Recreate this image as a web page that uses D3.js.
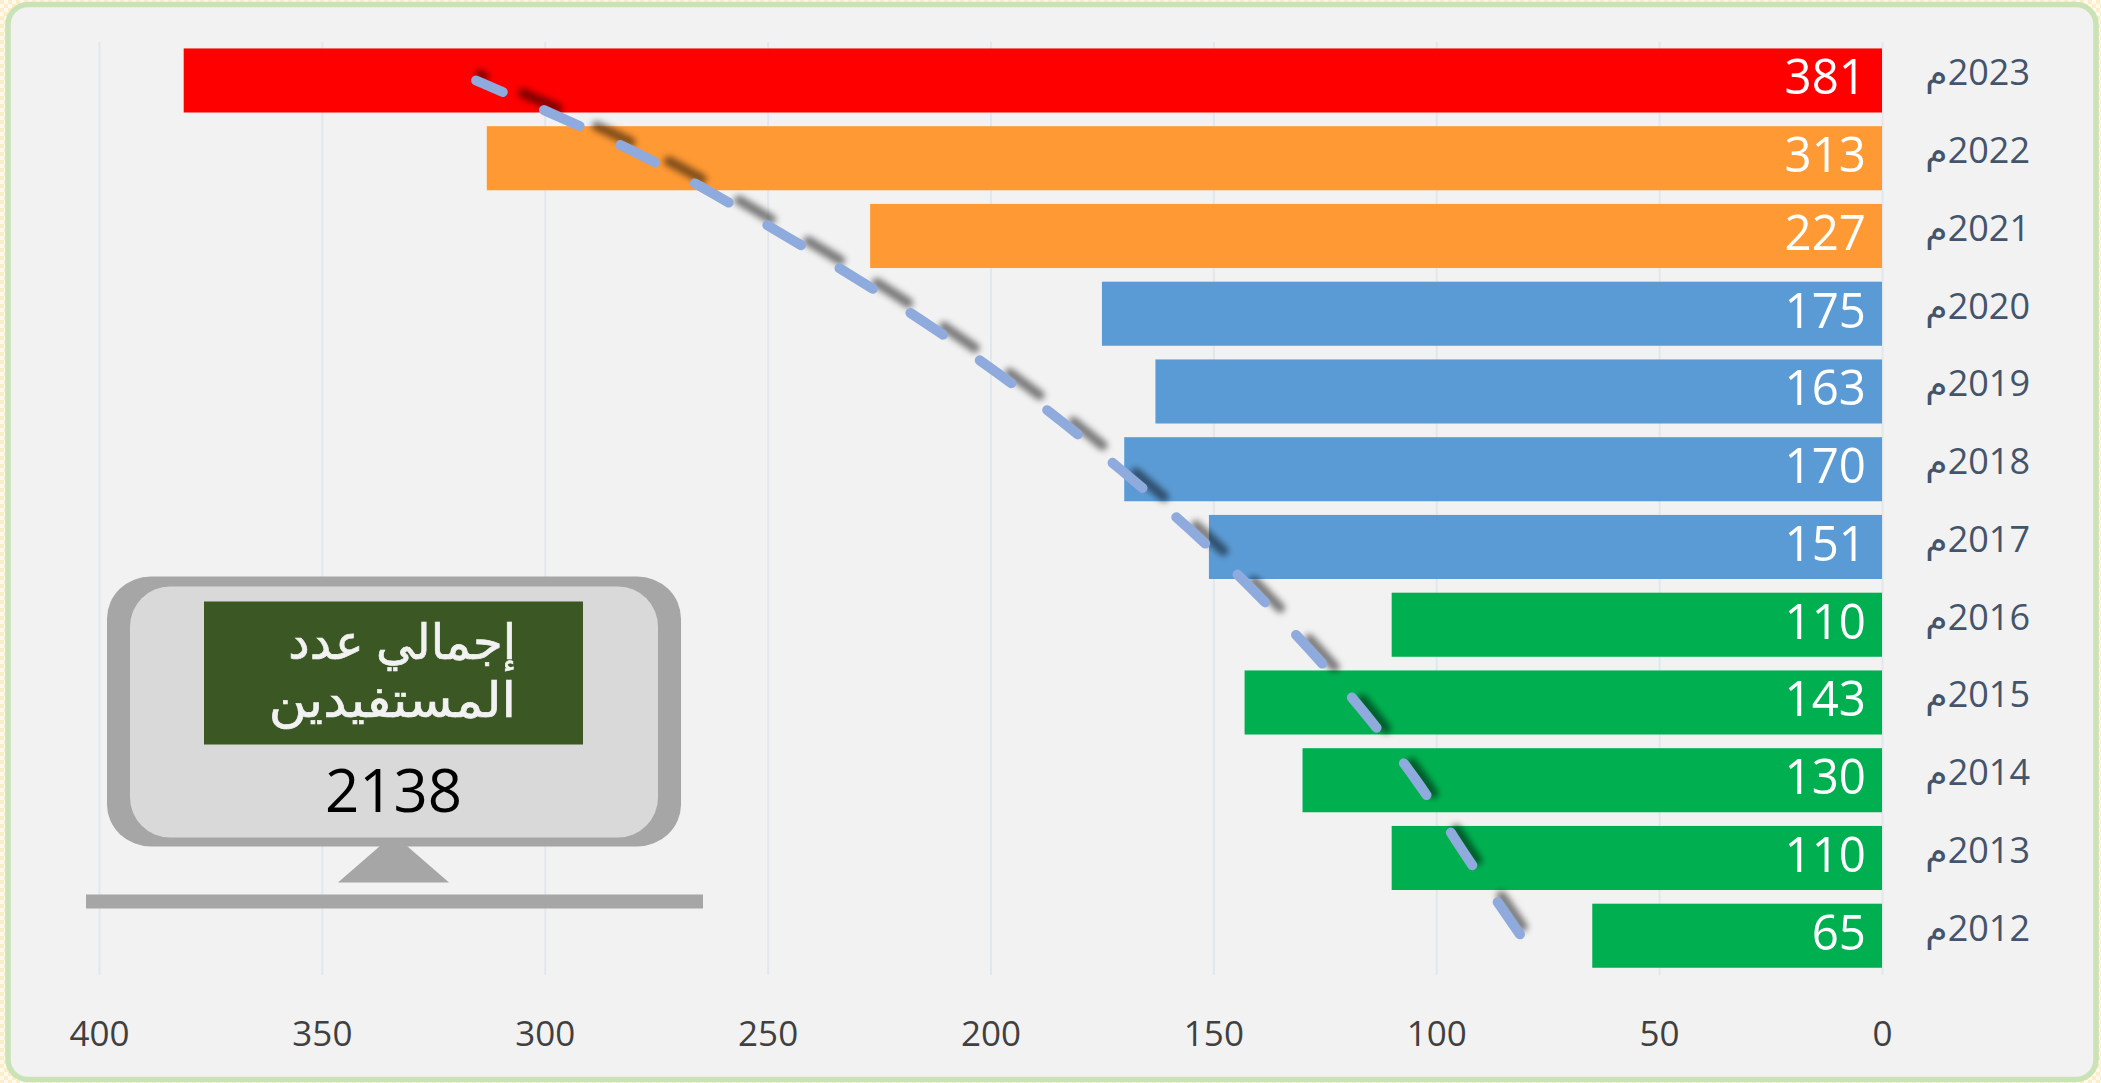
<!DOCTYPE html>
<html><head><meta charset="utf-8">
<script src="https://cdnjs.cloudflare.com/ajax/libs/d3/7.8.5/d3.min.js"></script>
<style>
html,body{margin:0;padding:0;background:#fff;overflow:hidden}
svg{display:block}
text{font-family:"Open Sans","Noto Sans","DejaVu Sans",sans-serif}
</style></head><body>
<svg id="c" width="2101" height="1083"></svg>
<script>
const years=[2023,2022,2021,2020,2019,2018,2017,2016,2015,2014,2013,2012];
const values=[381,313,227,175,163,170,151,110,143,130,110,65];
const trend=[315.4,277,246,217.7,192.8,170.9,151,133.6,118,104.5,93,81];
const xTicks=[400,350,300,250,200,150,100,50,0];
const yearSuffix="م";
const totalLines=["إجمالي عدد","المستفيدين"];
const totalValue=2138;

const svg=d3.select("#c");
const defs=svg.append("defs");
defs.append("filter").attr("id","blur").attr("x","-20%").attr("y","-20%").attr("width","140%").attr("height","140%")
  .append("feGaussianBlur").attr("stdDeviation",3);
const pat=defs.append("pattern").attr("id","weave").attr("width",8).attr("height",8).attr("patternUnits","userSpaceOnUse");
pat.append("rect").attr("width",8).attr("height",8).attr("fill","#fffaf0");
pat.append("rect").attr("width",4).attr("height",4).attr("fill","#fdeec8");
pat.append("rect").attr("x",4).attr("y",4).attr("width",4).attr("height",4).attr("fill","#fdeec8");

svg.append("rect").attr("width",2101).attr("height",1083).attr("fill","url(#weave)");
svg.append("rect").attr("x",8).attr("y",4.5).attr("width",2088).attr("height",1075).attr("rx",20)
  .attr("fill","#f2f2f2").attr("stroke","#c9e2b6").attr("stroke-width",5.5);

const x=d3.scaleLinear().domain([400,0]).range([99,1882]);
const y=d3.scaleBand().domain(years).range([41.6,974.6]).paddingInner(0.176).paddingOuter(0.088);
const colour=d3.scaleThreshold().domain([2017,2021,2023]).range(["#00b050","#5b9bd5","#ff9933","#ff0000"]);

const gx=svg.append("g").attr("transform","translate(0,975)")
  .call(d3.axisBottom(x).tickValues(xTicks).tickSize(-933).tickPadding(0));
gx.select(".domain").remove();
gx.selectAll("line").attr("stroke","#e2e7ec").attr("stroke-width",2);
gx.selectAll("text").attr("y",null).attr("dy",null).attr("transform","translate(0,70.5)")
  .attr("fill","#404040").attr("font-size",35).attr("font-family",'"Open Sans"');

svg.selectAll("rect.bar").data(years).join("rect").attr("class","bar")
  .attr("x",(d,i)=>x(values[i])).attr("y",d=>y(d))
  .attr("width",(d,i)=>x(0)-x(values[i])).attr("height",y.bandwidth())
  .attr("fill",d=>colour(d));

svg.selectAll("text.val").data(years).join("text").attr("class","val")
  .attr("transform",d=>`translate(${x(0)-16},${y(d)+y.bandwidth()/2+14}) scale(.95,1)`)
  .attr("text-anchor","end").attr("fill","#fff").attr("font-size",50)
  .text((d,i)=>values[i]);

const gy=svg.append("g").attr("transform","translate(2030,0)")
  .call(d3.axisRight(y).tickSize(0).tickPadding(0).tickFormat(d=>d+yearSuffix));
gy.select(".domain").remove();
gy.selectAll("text").attr("x",0).attr("dy",null).attr("y",5)
  .attr("direction","rtl").attr("text-anchor","start")
  .attr("fill","#44546a").attr("font-size",36).attr("font-family",'"Open Sans","DejaVu Sans"');

const line=d3.line().x(d=>x(d)).y((d,i)=>y(years[i])+y.bandwidth()/2).curve(d3.curveMonotoneY);
svg.append("path").datum(trend).attr("d",line).attr("fill","none")
  .attr("stroke","#000").attr("stroke-opacity",.5).attr("stroke-width",10).attr("stroke-linecap","round")
  .attr("stroke-dasharray","37.5 42.8").attr("stroke-dashoffset",-47)
  .attr("transform","translate(4,-6)").attr("filter","url(#blur)");
svg.append("path").datum(trend).attr("d",line).attr("fill","none")
  .attr("stroke","#8faadc").attr("stroke-width",10).attr("stroke-linecap","round")
  .attr("stroke-dasharray","39 44.9").attr("stroke-dashoffset",10);

const m=svg.append("g");
m.append("rect").attr("x",107).attr("y",576.5).attr("width",574).attr("height",270).attr("rx",44).attr("ry",42).attr("fill","#a6a6a6");
m.append("rect").attr("x",130).attr("y",586.5).attr("width",528).attr("height",251).attr("rx",40).attr("ry",40).attr("fill","#d9d9d9");
m.append("path").attr("d","M380,846L407,846L449,882.5L338,882.5Z").attr("fill","#a6a6a6");
m.append("rect").attr("x",86).attr("y",894.5).attr("width",617).attr("height",14).attr("fill","#a6a6a6");
m.append("rect").attr("x",204).attr("y",601.5).attr("width",379).attr("height",143).attr("fill","#3b5723");
const lineScale=[[1,1.02],[1.09,1.02]];
m.selectAll("text.t").data(totalLines).join("text").attr("class","t")
  .attr("transform",(d,i)=>`translate(516,${659+i*57.6}) scale(${lineScale[i][0]},${lineScale[i][1]})`)
  .attr("text-anchor","start").attr("direction","rtl")
  .attr("fill","#f2f2f2").attr("stroke","#f2f2f2").attr("stroke-width",0.7)
  .attr("font-size",48).attr("font-family",'"DejaVu Sans"').text(d=>d);
m.append("text").attr("x",393.5).attr("y",812).attr("text-anchor","middle").attr("fill","#000")
  .attr("font-size",60).text(totalValue);
</script>
</body></html>
